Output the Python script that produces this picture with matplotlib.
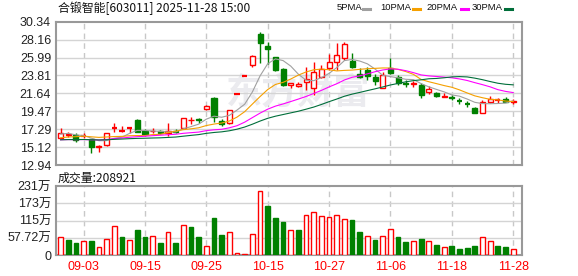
import numpy as np
import pandas as pd
import matplotlib
matplotlib.use("Agg")
import matplotlib.pyplot as plt
from matplotlib.lines import Line2D

plt.rcParams['font.family'] = ['Liberation Sans', 'Noto Sans CJK SC', 'DejaVu Sans']

# trading days shown (08-29 .. 11-28)
dates = ["08-29", "09-01", "09-02", "09-03", "09-04", "09-05", "09-08", "09-09", "09-10", "09-11",
         "09-12", "09-15", "09-16", "09-17", "09-18", "09-19", "09-22", "09-23", "09-24", "09-25",
         "09-26", "09-29", "09-30", "10-09", "10-10", "10-13", "10-14", "10-15", "10-16", "10-17",
         "10-20", "10-21", "10-22", "10-23", "10-24", "10-27", "10-28", "10-29", "10-30", "10-31",
         "11-03", "11-04", "11-05", "11-06", "11-07", "11-10", "11-11", "11-12", "11-13", "11-14",
         "11-17", "11-18", "11-19", "11-20", "11-21", "11-24", "11-25", "11-26", "11-27", "11-28"]

opens = [16.20, 16.62, 16.55, 16.40, 16.06, 15.10, 15.33, 17.38, 17.05, 17.38,
         18.40, 17.07, 17.05, 17.05, 16.80, 17.10, 17.40, 18.35, 18.50, 19.70,
         21.10, 18.28, 18.00, 21.56, 23.72, 25.10, 28.80, 27.35, 26.00, 24.60,
         22.60, 22.50, 23.05, 22.25, 23.66, 24.70, 25.50, 25.90, 25.60, 23.95,
         24.45, 23.60, 22.33, 24.68, 23.65, 22.90, 22.80, 22.65, 21.80, 21.72,
         21.25, 21.15, 20.75, 20.42, 19.90, 19.30, 20.63, 20.80, 21.00, 20.60]
highs = [17.40, 16.91, 16.79, 16.79, 16.10, 15.37, 16.85, 18.00, 17.67, 17.45,
         18.50, 17.30, 17.40, 17.20, 18.00, 17.30, 18.65, 18.80, 18.70, 20.20,
         21.15, 18.49, 19.65, 21.56, 23.72, 26.25, 29.05, 27.90, 26.10, 24.70,
         22.95, 23.00, 24.88, 25.48, 25.08, 26.38, 27.79, 27.91, 26.50, 24.68,
         24.88, 23.99, 24.27, 25.90, 23.87, 23.26, 23.10, 22.86, 22.53, 21.75,
         21.70, 21.44, 21.11, 20.71, 20.02, 20.83, 21.32, 21.10, 21.20, 20.90]
lows = [16.15, 16.38, 15.77, 16.20, 14.43, 14.56, 15.30, 16.90, 17.00, 16.80,
        16.95, 16.50, 16.85, 16.70, 16.45, 16.80, 17.35, 17.90, 18.10, 19.65,
        18.20, 17.67, 17.95, 21.56, 23.72, 24.80, 25.30, 25.20, 24.30, 22.50,
        22.35, 22.40, 22.05, 21.44, 23.47, 24.48, 24.48, 25.69, 24.68, 23.50,
        23.26, 22.65, 22.25, 24.00, 22.65, 22.37, 22.40, 21.04, 21.52, 21.20,
        21.20, 20.83, 20.31, 20.02, 19.28, 19.29, 20.43, 20.50, 20.55, 20.30]
closes = [16.80, 16.70, 16.00, 16.45, 15.09, 15.20, 16.79, 17.42, 17.10, 17.42,
          17.00, 16.70, 17.12, 16.85, 17.10, 17.00, 18.60, 18.45, 18.35, 20.14,
          18.80, 17.95, 19.60, 21.56, 23.72, 26.20, 27.70, 27.00, 24.50, 22.70,
          22.85, 22.75, 23.38, 24.20, 24.56, 25.40, 26.30, 27.63, 24.88, 23.60,
          23.70, 23.10, 23.87, 24.10, 22.85, 22.82, 22.90, 21.45, 22.13, 21.30,
          21.32, 21.05, 20.70, 20.38, 19.30, 20.55, 20.95, 20.85, 20.65, 20.68]
# closes before the visible window (needed for the moving averages), estimated
prior_closes = [15.90, 16.00, 16.10, 15.95, 16.05, 16.10, 15.90, 16.00, 16.05, 15.95,
                16.15, 16.25, 16.20, 15.70, 15.60, 15.50, 15.45, 15.55, 15.60, 15.60,
                15.65, 15.70, 15.80, 15.85, 15.90, 16.30, 16.90, 16.90, 16.60]
# volume, in 万手
volumes = [59, 50, 40, 46, 47, 26, 52, 97, 60, 50,
           84, 60, 62, 40, 76, 40, 100, 94, 60, 29,
           124, 67, 76, 7, 3, 69, 213, 164, 124, 110,
           84, 84, 134, 144, 131, 127, 134, 121, 117, 77,
           64, 50, 64, 87, 60, 44, 47, 54, 47, 33,
           27, 30, 20, 23, 30, 60, 47, 30, 27, 20.8921]

price_ticks = [12.94, 15.12, 17.29, 19.47, 21.64, 23.81, 25.99, 28.16, 30.34]
vol_ticks = [0, 57.72, 115, 173, 231]
vol_labels = ["0", "57.72万", "115万", "173万", "231万"]
ma_periods = [5, 10, 20, 30]
ma_colors = ["#a0a0a0", "#f5a000", "#ff00ff", "#006e3a"]

RED = "#ff0000"
GREEN = "#008000"
GRID = "#d4d4d4"
SPINE = "#999999"

n = len(closes)
x = np.arange(n)
o = np.array(opens); c = np.array(closes); h = np.array(highs); l = np.array(lows)
up = c >= o
prev_close = np.concatenate([[prior_closes[-1]], c[:-1]])
vol_up = c >= prev_close

all_close = pd.Series(prior_closes + closes)

fig = plt.figure(figsize=(5.78, 2.76), dpi=100)
W, H = 578.0, 276.0
ax = fig.add_axes([56 / W, 1 - 165 / H, 466 / W, 143.3 / H])
axv = fig.add_axes([56 / W, 1 - 255 / H, 466 / W, 69 / H])

xlim = (-0.6, 60.15)
label_idx = list(range(3, n, 8))

for a in (ax, axv):
    a.set_xlim(*xlim)
    for s in a.spines.values():
        s.set_color(SPINE)
        s.set_linewidth(1.5)
    a.tick_params(length=0)
    for i in label_idx:
        a.axvline(i, color="#c8c8c8", lw=1, ls=(0, (4, 3)), zorder=0)

# watermark
ax.text(0.52, 0.5, "东方财富", transform=ax.transAxes, ha="center", va="center",
        fontsize=26, fontweight="bold", color="#ebebef", family=["Noto Sans CJK SC"], zorder=0.5)

# price panel
ax.set_ylim(price_ticks[0], price_ticks[-1])
ax.set_yticks(price_ticks)
ax.set_yticklabels([f"{t:.2f}" for t in price_ticks], fontsize=9, color="#222222")
ax.set_xticks([])
for t in price_ticks[1:-1]:
    ax.axhline(t, color=GRID, lw=1, zorder=0.6)

body_w = 0.66
ax.vlines(x, l, h, colors=[RED if u else GREEN for u in up], lw=1, zorder=2)
for i in range(n):
    col = RED if up[i] else GREEN
    if abs(c[i] - o[i]) < 0.06:
        ax.hlines((o[i] + c[i]) / 2, i - body_w / 2, i + body_w / 2, colors=col, lw=1.6, zorder=3)
    else:
        ax.bar(i, abs(c[i] - o[i]), bottom=min(o[i], c[i]), width=body_w,
               facecolor="white" if up[i] else GREEN, edgecolor=col, lw=1, zorder=3)

for p, col in zip(ma_periods, ma_colors):
    ma = all_close.rolling(p).mean().values[-n:]
    ax.plot(x, ma, color=col, lw=0.8, zorder=4)

# volume panel
axv.set_ylim(vol_ticks[0], vol_ticks[-1])
axv.set_yticks(vol_ticks)
axv.set_yticklabels(vol_labels, fontsize=9, color="#222222")
for t in vol_ticks[1:-1]:
    axv.axhline(t, color=GRID, lw=1, zorder=0.6)
axv.bar(x, volumes, width=0.62,
        facecolor=["white" if u else GREEN for u in vol_up],
        edgecolor=[RED if u else GREEN for u in vol_up], lw=1, zorder=3)
axv.set_xticks(label_idx)
axv.set_xticklabels([dates[i] for i in label_idx], fontsize=9, color=RED)
axv.tick_params(axis="x", pad=4)

# header texts
fig.text(58 / W, 1 - 8 / H, "合锻智能[603011] 2025-11-28 15:00", fontsize=8.6,
         va="center", ha="left", color="#111111", family=["Noto Sans CJK SC", "DejaVu Sans"])
fig.text(58 / W, 1 - 178 / H, "成交量:%d" % round(volumes[-1] * 10000), fontsize=8.6,
         va="center", ha="left", color="#111111", family=["Noto Sans CJK SC", "DejaVu Sans"])

leg_x = [337, 380, 426, 472]
dash_x = [363, 413, 461, 505]
for p, col, tx, dx in zip(ma_periods, ma_colors, leg_x, dash_x):
    fig.text(tx / W, 1 - 8 / H, f"{p}PMA", fontsize=6.8, va="center", ha="left", color="#111111")
    fig.add_artist(Line2D([dx / W, (dx + 7) / W], [1 - 8.5 / H, 1 - 8.5 / H],
                          color=col, lw=2.2, transform=fig.transFigure))

fig.savefig("out.png", dpi=100, facecolor="white")
